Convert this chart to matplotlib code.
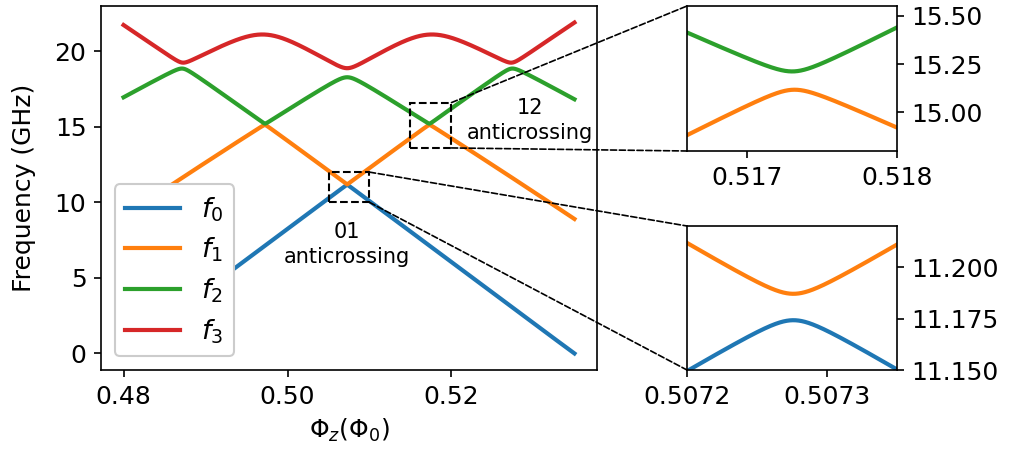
import numpy as np
import matplotlib
matplotlib.use("Agg")
import matplotlib.pyplot as plt
from matplotlib.patches import Rectangle, ConnectionPatch

# ---- data -------------------------------------------------------------
flux_start, flux_stop = 0.48, 0.535      # Phi_z sweep (Phi_0)
flux_sym = 0.507276                      # symmetry point of the spectrum

# rising diabatic branches, given as (offset from flux_sym, GHz);
# the falling branches are their mirror images about flux_sym
branch1_du = [-0.027724, 0.0, 0.010034, 0.01989, 0.027276, 0.027724]
branch1_f = [0.001, 11.1838, 15.1703, 19.1, 21.71, 21.86]
branch1_w = [1, 50, 50, 1, 1, 1]
branch2_du = [-0.027724, -0.010034, 0.0]
branch2_f = [8.959, 15.2778, 18.772]
branch3_du = [-0.027276, -0.01989]
branch3_f = [17.084, 19.314]

# coupling (GHz) between rising branch k and falling branch j
coupling = [[0.00615, 0.0455, 0.2],
            [0.0455, 0.30, 1.15],
            [0.2, 1.15, 0.30]]

labels = ["$f_0$", "$f_1$", "$f_2$", "$f_3$"]
colors = ["C0", "C1", "C2", "C3"]

main_xticks = [0.48, 0.50, 0.52]
main_xticklabels = ["0.48", "0.50", "0.52"]
main_yticks = [0, 5, 10, 15, 20]

zoom12_xlim, zoom12_ylim = (0.5166, 0.518), (14.8, 15.55)
zoom12_xticks, zoom12_xticklabels = [0.517, 0.518], ["0.517", "0.518"]
zoom12_yticks, zoom12_yticklabels = [15.0, 15.25, 15.5], ["15.00", "15.25", "15.50"]
zoom12_box = (0.515, 13.6, 0.005, 3.0)

zoom01_xlim, zoom01_ylim = (0.5072, 0.50735), (11.15, 11.22)
zoom01_xticks, zoom01_xticklabels = [0.5072, 0.5073], ["0.5072", "0.5073"]
zoom01_yticks, zoom01_yticklabels = [11.15, 11.175, 11.2], ["11.150", "11.175", "11.200"]
zoom01_box = (0.505, 10.0, 0.005, 2.0)

# ---- model --------------------------------------------------------------
rising = [np.poly1d(np.polyfit(branch1_du, branch1_f, 3, w=branch1_w)),
          np.poly1d(np.polyfit(branch2_du, branch2_f, 2)),
          np.poly1d(np.polyfit(branch3_du, branch3_f, 1))]


def spectrum(flux):
    u = np.asarray(flux) - flux_sym
    H = np.zeros((u.size, 6, 6))
    for k in range(3):
        H[:, k, k] = rising[k](u)
        H[:, 3 + k, 3 + k] = rising[k](-u)
        for j in range(3):
            H[:, k, 3 + j] = coupling[k][j]
            H[:, 3 + j, k] = coupling[k][j]
    return np.linalg.eigvalsh(H)[:, :4]


flux = np.linspace(flux_start, flux_stop, 6001)
freqs = spectrum(flux)

# ---- figure -------------------------------------------------------------
W, Hpx, dpi = 1013, 453, 150
fig = plt.figure(figsize=(W / dpi, Hpx / dpi), dpi=dpi)


def frac(left, top, right, bottom):
    return [left / W, 1 - bottom / Hpx, (right - left) / W, (bottom - top) / Hpx]


ax = fig.add_axes(frac(101, 6, 597, 370))
ax_12 = fig.add_axes(frac(687, 6, 897, 151))
ax_01 = fig.add_axes(frac(687, 226, 897, 370))

for n in range(4):
    ax.plot(flux, freqs[:, n], color=colors[n], lw=2, label=labels[n])

ax.set_xticks(main_xticks)
ax.set_xticklabels(main_xticklabels)
ax.set_yticks(main_yticks)
ax.tick_params(labelsize=12)
ax.set_xlabel(r"$\Phi_z(\Phi_0)$", fontsize=12)
ax.set_ylabel("Frequency (GHz)", fontsize=12, labelpad=9)
ax.legend(loc="lower left", fontsize=13, framealpha=1, labelspacing=0.45)

ax.text(0.5073, 7.2, "01\nanticrossing", ha="center", va="center",
        multialignment="center", fontsize=10, linespacing=1.3)
ax.text(0.5296, 15.4, "12\nanticrossing", ha="center", va="center",
        multialignment="center", fontsize=10, linespacing=1.3)


def zoom_panel(axz, xlim, ylim, xt, xtl, yt, ytl, box, pair):
    fx = np.linspace(xlim[0], xlim[1], 1501)
    fz = spectrum(fx)
    for n in pair:
        axz.plot(fx, fz[:, n], color=colors[n], lw=2)
    axz.set_xlim(xlim)
    axz.set_ylim(ylim)
    axz.set_xticks(xt)
    axz.set_xticklabels(xtl)
    axz.set_yticks(yt)
    axz.set_yticklabels(ytl)
    axz.yaxis.tick_right()
    axz.tick_params(labelsize=12)

    x0, y0, w, h = box
    ax.add_patch(Rectangle((x0, y0), w, h, fill=False, ls="--", lw=1,
                           ec="k", zorder=5))
    for corner_a, corner_b in [((x0 + w, y0 + h), (0, 1)), ((x0 + w, y0), (0, 0))]:
        con = ConnectionPatch(xyA=corner_a, coordsA=ax.transData,
                              xyB=corner_b, coordsB=axz.transAxes,
                              ls="--", lw=0.8, color="k")
        fig.add_artist(con)


zoom_panel(ax_12, zoom12_xlim, zoom12_ylim, zoom12_xticks, zoom12_xticklabels,
           zoom12_yticks, zoom12_yticklabels, zoom12_box, (1, 2))
zoom_panel(ax_01, zoom01_xlim, zoom01_ylim, zoom01_xticks, zoom01_xticklabels,
           zoom01_yticks, zoom01_yticklabels, zoom01_box, (0, 1))

fig.savefig("out.png", dpi=dpi)
